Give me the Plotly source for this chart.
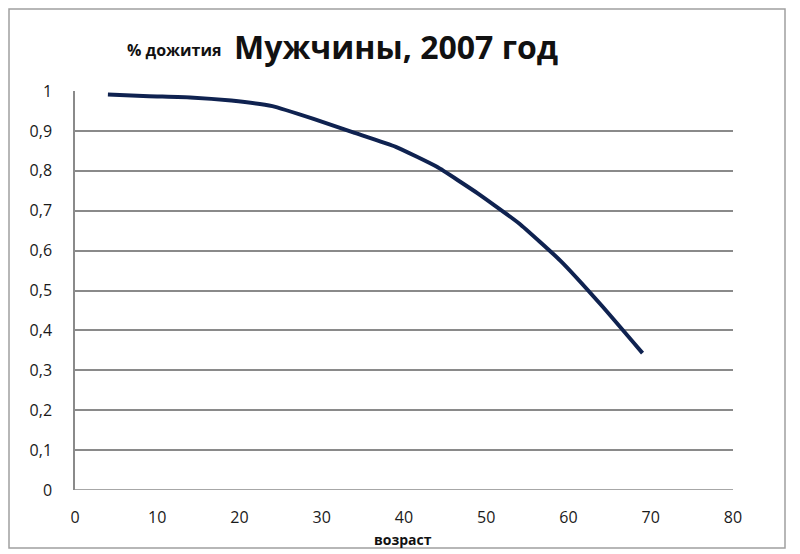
import plotly.graph_objects as go

ages = [4, 9, 14, 19, 24, 29, 34, 39, 44, 49, 54, 59, 64, 69]
survival = [0.991, 0.987, 0.984, 0.976, 0.962, 0.930, 0.895, 0.860, 0.810, 0.743, 0.668, 0.575, 0.463, 0.343]

x_ticks = [0, 10, 20, 30, 40, 50, 60, 70, 80]
y_ticks = [0, 0.1, 0.2, 0.3, 0.4, 0.5, 0.6, 0.7, 0.8, 0.9, 1]

title_main = "Мужчины, 2007 год"
title_prefix = "% дожития"
x_title = "возраст"

font_fam = "Open Sans, Liberation Sans, sans-serif"

# page offset of the figure (body margin)
OFF = 8
FW, FH = 800 - OFF, 554 - OFF
L, R, T, B = 75 - OFF, 733 - OFF, 91 - OFF, 490 - OFF
W, H = R - L, B - T


def px(x):
    return (x - OFF - L) / W


def py(y):
    return (B - (y - OFF)) / H


fig = go.Figure()
fig.add_trace(go.Scatter(
    x=ages, y=survival, mode="lines",
    line=dict(color="#0f2250", width=4, shape="spline", smoothing=0.4),
    hoverinfo="x+y", showlegend=False,
))

fig.update_layout(
    width=FW, height=FH,
    margin=dict(l=L, r=FW - R, t=T, b=FH - B, autoexpand=False),
    paper_bgcolor="white", plot_bgcolor="white",
    separators=", ",
    font=dict(family=font_fam, size=16, color="#1a1a1a"),
    xaxis=dict(
        range=[0, 80], tickvals=x_ticks, ticktext=[str(v) for v in x_ticks],
        showgrid=False, zeroline=False, showline=False, automargin=False,
        ticks="outside", ticklen=13, tickcolor="rgba(0,0,0,0)",
    ),
    yaxis=dict(
        range=[0, 1], tickvals=y_ticks, automargin=False,
        ticktext=[("%g" % v).replace(".", ",") for v in y_ticks],
        showgrid=True, gridcolor="#8a8a8a", gridwidth=1.5,
        zeroline=False, showline=True, linecolor="#8a8a8a", linewidth=1.5,
        ticks="outside", ticklen=18, tickcolor="rgba(0,0,0,0)",
    ),
    shapes=[
        dict(type="line", xref="x", yref="y", x0=0, x1=80, y0=0, y1=0,
             line=dict(color="#8a8a8a", width=1.5)),
        dict(type="rect", xref="paper", yref="paper",
             x0=px(9), x1=px(785), y0=py(548), y1=py(9),
             line=dict(color="#a0a0a0", width=1.5), layer="above"),
    ],
    annotations=[
        dict(text="<b>" + title_main + "</b>", xref="paper", yref="paper",
             x=px(232), y=py(46), xanchor="left", yanchor="middle",
             showarrow=False, font=dict(size=32, family=font_fam, color="#111111")),
        dict(text="<b>" + title_prefix + "</b>", xref="paper", yref="paper",
             x=px(223), y=py(50), xanchor="right", yanchor="middle",
             showarrow=False, font=dict(size=16, family=font_fam, color="#111111")),
        dict(text="<b>" + x_title + "</b>", xref="paper", yref="paper",
             x=px(403), y=py(539), xanchor="center", yanchor="middle",
             showarrow=False, font=dict(size=14, family=font_fam, color="#111111")),
    ],
)

fig.write_html("out.html")
